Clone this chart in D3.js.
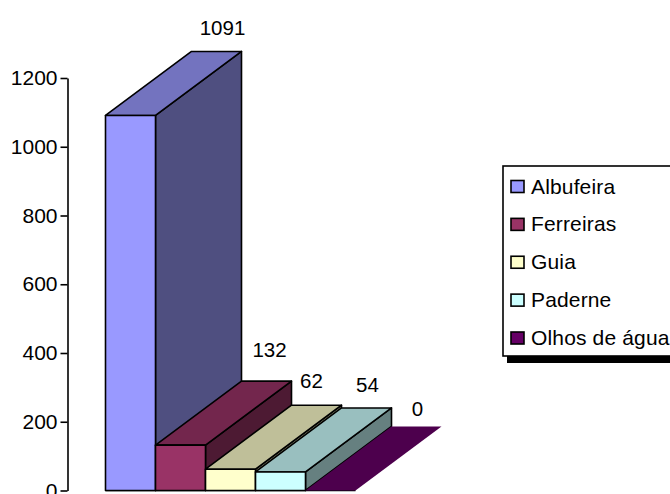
<!DOCTYPE html>
<html>
<head>
<meta charset="utf-8">
<script src="https://cdn.jsdelivr.net/npm/d3@7/dist/d3.min.js"></script>
<style>
html,body{margin:0;padding:0;background:#fff;overflow:hidden}
svg{display:block}
text{font-family:"Liberation Sans",Arial,sans-serif;fill:#000}
</style>
</head>
<body>
<svg id="chart" width="670" height="494"></svg>
<script>
const categories = ["Albufeira", "Ferreiras", "Guia", "Paderne", "Olhos de água"];
const values = [1091, 132, 62, 54, 0];
const frontColors = ["#9999ff", "#993366", "#ffffcc", "#ccffff", "#660066"];
const topColors = ["#7373bf", "#73264d", "#bfbf99", "#99bfbf", "#4d004d"];
const sideColors = ["#4f4f80", "#4d1a33", "#808066", "#668080", "#330033"];
const yTicks = [0, 200, 400, 600, 800, 1000, 1200];

const svg = d3.select("#chart");
const y = d3.scaleLinear().domain([0, 1200]).range([490.5, 78]);
const x = d3.scaleBand().domain(categories).range([105.5, 355.5]);
const depthX = 86, depthY = -64;
const fontSize = 20.5;

// Value axis
const axis = d3.axisLeft(y).tickValues(yTicks).tickFormat(d3.format("d"))
  .tickSize(7).tickPadding(3).tickSizeOuter(0);
const axisG = svg.append("g").attr("transform", "translate(67.5,0)").call(axis);
axisG.selectAll("path,line").attr("stroke", "#000").attr("stroke-width", 1.6);
axisG.selectAll("text").attr("font-size", 21).style("font-family", '"Liberation Sans",Arial,sans-serif');

// Category baseline
svg.append("line")
  .attr("x1", x.range()[0]).attr("x2", x.range()[1])
  .attr("y1", y(0)).attr("y2", y(0))
  .attr("stroke", "#000").attr("stroke-width", 1.4);

const poly = pts => pts.map(p => p.join(",")).join(" ");
const bars = svg.append("g").selectAll("g").data(categories).join("g");

// Draw each box back-to-front: right side, top, then front
bars.each(function (c, i) {
  const g = d3.select(this);
  const x0 = x(c), x1 = x0 + x.bandwidth(), yt = y(values[i]), yb = y(0);
  const edge = { stroke: "#000", "stroke-width": 1.6, "stroke-linejoin": "round" };
  const add = (pts, fill, stroked) => {
    const p = g.append("polygon").attr("points", poly(pts)).attr("fill", fill);
    if (stroked) Object.entries(edge).forEach(([k, v]) => p.attr(k, v));
  };
  const flat = values[i] === 0;
  if (!flat) add([[x1, yt], [x1 + depthX, yt + depthY], [x1 + depthX, yb + depthY], [x1, yb]], sideColors[i], true);
  add([[x0, yt], [x0 + depthX, yt + depthY], [x1 + depthX, yt + depthY], [x1, yt]], topColors[i], !flat);
  if (!flat) add([[x0, yt], [x1, yt], [x1, yb], [x0, yb]], frontColors[i], true);
});

// Value labels above the far corner of each box
const labelOffsets = [[-19, -16], [-22, -24], [-30, -17], [-24, -16], [-24, -11]];
svg.append("g").selectAll("text").data(categories).join("text")
  .attr("x", (c, i) => x(c) + x.bandwidth() + depthX + labelOffsets[i][0])
  .attr("y", (c, i) => y(values[i]) + depthY + labelOffsets[i][1])
  .attr("text-anchor", "middle")
  .attr("font-size", fontSize)
  .text((c, i) => values[i]);

// Legend with drop shadow
const legendRow = d3.scalePoint().domain(categories).range([186.5, 338]);
const legend = svg.append("g");
legend.append("rect").attr("x", 507).attr("y", 170).attr("width", 170).attr("height", 193).attr("fill", "#000");
legend.append("rect").attr("x", 503).attr("y", 166).attr("width", 175).attr("height", 190)
  .attr("fill", "#fff").attr("stroke", "#000").attr("stroke-width", 1.6);
const rows = legend.selectAll("g").data(categories).join("g")
  .attr("transform", c => `translate(0,${legendRow(c)})`);
rows.append("rect").attr("x", 511).attr("y", -6).attr("width", 13).attr("height", 12)
  .attr("fill", (c, i) => frontColors[i]).attr("stroke", "#000").attr("stroke-width", 1.6);
rows.append("text").attr("x", 531).attr("y", 7).attr("font-size", 21).attr("letter-spacing", 0.15).text(c => c);
</script>
</body>
</html>
